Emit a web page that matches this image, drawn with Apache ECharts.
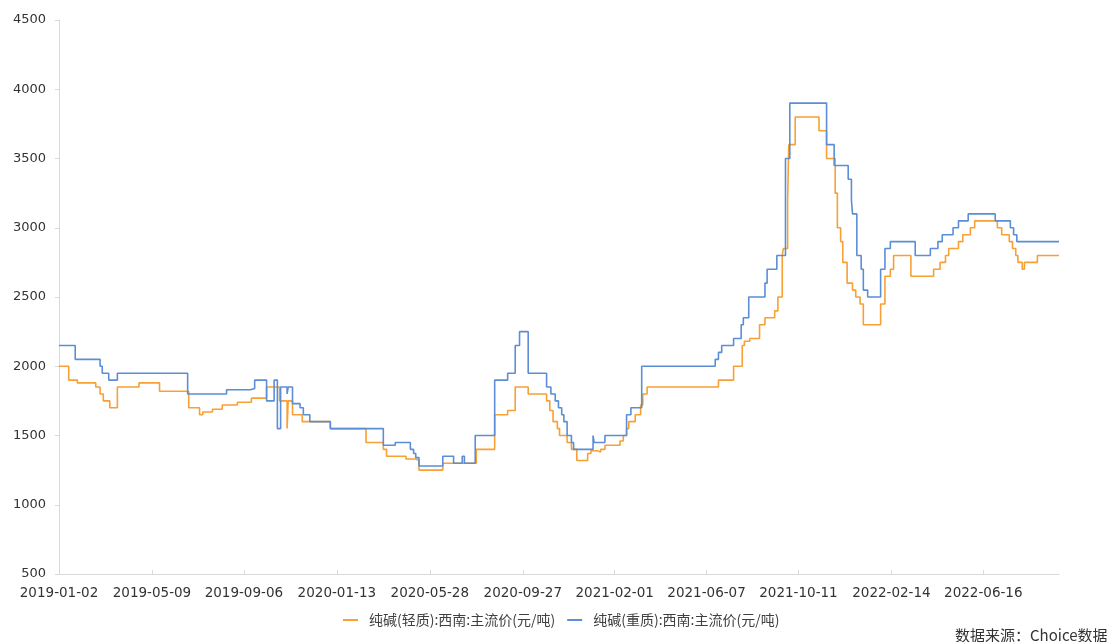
<!DOCTYPE html>
<html>
<head>
<meta charset="utf-8">
<script src="https://cdn.jsdelivr.net/npm/echarts@6/dist/echarts.min.js"></script>
<style>
  html, body { margin: 0; padding: 0; background: #fff; }
  #lineCharts { width: 1109px; height: 642px; }
</style>
</head>
<body>
<div id="lineCharts"></div>
<script>
// 交易日历：工作日 + 调休上班日，去掉节假日（2020-02 上旬停报）
var startDate = '2019-01-02';
var endDate = '2022-09-23';
var holidays = [
  '2019-02-04','2019-02-05','2019-02-06','2019-02-07','2019-02-08','2019-04-05','2019-05-01','2019-05-02','2019-05-03',
  '2019-06-07','2019-09-13','2019-10-01','2019-10-02','2019-10-03','2019-10-04','2019-10-07',
  '2020-01-01','2020-01-24','2020-01-27','2020-01-28','2020-01-29','2020-01-30','2020-01-31',
  '2020-02-03','2020-02-04','2020-02-05','2020-02-06','2020-02-07','2020-04-06','2020-05-01','2020-05-04','2020-05-05',
  '2020-06-25','2020-06-26','2020-10-01','2020-10-02','2020-10-05','2020-10-06','2020-10-07','2020-10-08',
  '2021-01-01','2021-02-11','2021-02-12','2021-02-15','2021-02-16','2021-02-17','2021-04-05','2021-05-03','2021-05-04',
  '2021-05-05','2021-06-14','2021-09-20','2021-09-21','2021-10-01','2021-10-04','2021-10-05','2021-10-06','2021-10-07',
  '2022-01-03','2022-01-31','2022-02-01','2022-02-02','2022-02-03','2022-02-04','2022-04-04','2022-04-05',
  '2022-05-02','2022-05-03','2022-05-04','2022-06-03','2022-09-12'
];
var workWeekends = [
  '2019-02-02','2019-02-03','2019-04-28','2019-05-05','2019-09-29','2019-10-12','2020-01-19','2020-04-26','2020-05-09',
  '2020-06-28','2020-09-27','2020-10-10','2021-02-07','2021-02-20','2021-04-25','2021-05-08','2021-09-18','2021-09-26',
  '2021-10-09','2022-01-29','2022-01-30','2022-04-02','2022-04-24','2022-05-07'
];
var tickLabels = ['2019-01-02','2019-05-09','2019-09-06','2020-01-13','2020-05-28','2020-09-27',
  '2021-02-01','2021-06-07','2021-10-11','2022-02-14','2022-06-16'];

// 价格变动点 [交易日序号, 价格]，价格保持到下一个变动点
var lightPrice = [
  [0,2000],[9,1900],[17,1880],[34,1850],[38,1800],[41,1750],[47,1700],[54,1850],[74,1880],[93,1820],
  [120,1700],[130,1650],[133,1670],[142,1690],[151,1720],[165,1740],[178,1770],[192,1850],[204,1750],[211,1550],
  [212,1750],[216,1650],[225,1600],[251,1550],[284,1450],[300,1400],[303,1350],[321,1330],[330,1320],[333,1250],
  [355,1300],[386,1400],[403,1650],[415,1680],[422,1850],[434,1800],[451,1750],[454,1680],[457,1600],[461,1550],
  [463,1500],[470,1450],[474,1400],[479,1320],[489,1370],[492,1390],[498,1380],[501,1400],[505,1430],[519,1460],
  [522,1500],[525,1550],[527,1600],[533,1650],[538,1720],[540,1800],[544,1850],[610,1900],[624,2000],[632,2150],
  [634,2180],[639,2200],[648,2300],[653,2350],[662,2400],[665,2500],[669,2800],[670,2850],[674,3200],[675,3600],
  [681,3800],[703,3700],[710,3500],[718,3250],[720,3000],[723,2900],[725,2750],[729,2600],[734,2550],[737,2500],
  [741,2450],[744,2300],[760,2450],[764,2650],[769,2700],[772,2800],[788,2650],[809,2700],[815,2750],[820,2800],
  [823,2850],[832,2900],[836,2950],[843,3000],[847,3050],[868,3000],[872,2950],[879,2900],[882,2850],[885,2800],
  [887,2750],[891,2700],[893,2750],[905,2800],[925,2800]
];
var heavyPrice = [
  [0,2150],[15,2050],[38,2000],[40,1950],[46,1900],[54,1950],[119,1800],[155,1830],[177,1840],[181,1900],
  [192,1750],[199,1900],[202,1550],[205,1850],[211,1800],[212,1850],[216,1730],[223,1700],[226,1650],[232,1600],
  [251,1550],[300,1430],[311,1450],[325,1400],[328,1370],[330,1340],[333,1280],[355,1350],[365,1300],[373,1350],
  [375,1300],[385,1500],[403,1900],[415,1950],[422,2150],[426,2250],[434,1950],[451,1850],[455,1800],[459,1750],
  [462,1700],[465,1650],[467,1600],[470,1500],[474,1450],[476,1400],[494,1500],[495,1450],[505,1500],[525,1650],
  [529,1700],[539,2000],[607,2050],[610,2100],[613,2150],[624,2200],[631,2300],[633,2350],[638,2500],[653,2600],
  [655,2700],[664,2800],[672,3500],[676,3900],[710,3600],[717,3450],[730,3350],[733,3200],[734,3100],[738,2800],
  [742,2700],[744,2550],[748,2500],[760,2700],[764,2850],[769,2900],[792,2800],[806,2850],[813,2900],[817,2950],
  [827,3000],[832,3050],[841,3100],[866,3050],[880,3000],[883,2950],[886,2900],[925,2900]
];

function fmt(d) {
  return d.toISOString().slice(0, 10);
}
var dates = [];
var d = new Date(startDate + 'T00:00:00Z');
var last = new Date(endDate + 'T00:00:00Z');
while (d <= last) {
  var s = fmt(d);
  var wd = d.getUTCDay();
  var isWork = (wd !== 0 && wd !== 6 && holidays.indexOf(s) < 0) || workWeekends.indexOf(s) >= 0;
  if (isWork) dates.push(s);
  d.setUTCDate(d.getUTCDate() + 1);
}

var showTick = function (index, value) {
  return tickLabels.indexOf(value) >= 0;
};

var myChart = echarts.init(document.getElementById('lineCharts'));
var axisFont = 'DejaVu Sans, sans-serif';
var cjkFont = 'Noto Sans CJK SC, sans-serif';
var option = {
  animation: false,
  grid: { left: 59, right: 50, top: 20, bottom: 68 },
  legend: {
    bottom: 10,
    left: 338,
    icon: 'rect',
    itemWidth: 15,
    itemHeight: 2,
    itemGap: 12,
    textStyle: { fontSize: 14, color: '#404040', fontFamily: cjkFont, padding: [0, 0, 0, 6] },
    data: ['纯碱(轻质):西南:主流价(元/吨)', '纯碱(重质):西南:主流价(元/吨)']
  },
  xAxis: {
    type: 'category',
    data: dates,
    boundaryGap: false,
    axisLine: { lineStyle: { color: '#d9d9d9' } },
    axisTick: { inside: true, length: 4, interval: showTick, lineStyle: { color: '#d9d9d9' } },
    axisLabel: {
      interval: showTick,
      color: '#333',
      fontSize: 13.5,
      margin: 12,
      fontFamily: axisFont
    }
  },
  yAxis: {
    type: 'value',
    min: 500,
    max: 4500,
    interval: 500,
    axisLine: { show: true, lineStyle: { color: '#d9d9d9' } },
    axisTick: { show: true, length: 4, lineStyle: { color: '#d9d9d9' } },
    splitLine: { show: false },
    axisLabel: {
      color: '#333',
      fontSize: 13,
      margin: 13,
      fontFamily: axisFont,
      formatter: function (v) { return String(v); }
    }
  },
  graphic: [{
    type: 'text',
    left: 955,
    top: 628,
    style: { text: '数据来源：Choice数据', fill: '#333', font: '15px "Noto Sans CJK SC"' }
  }],
  series: [
    {
      name: '纯碱(轻质):西南:主流价(元/吨)',
      type: 'line',
      step: 'end',
      showSymbol: false,
      color: '#F7A035',
      lineStyle: { width: 1.6 },
      data: lightPrice
    },
    {
      name: '纯碱(重质):西南:主流价(元/吨)',
      type: 'line',
      step: 'end',
      showSymbol: false,
      color: '#5B8ED6',
      lineStyle: { width: 1.6 },
      data: heavyPrice
    }
  ]
};
myChart.setOption(option);
</script>
</body>
</html>
